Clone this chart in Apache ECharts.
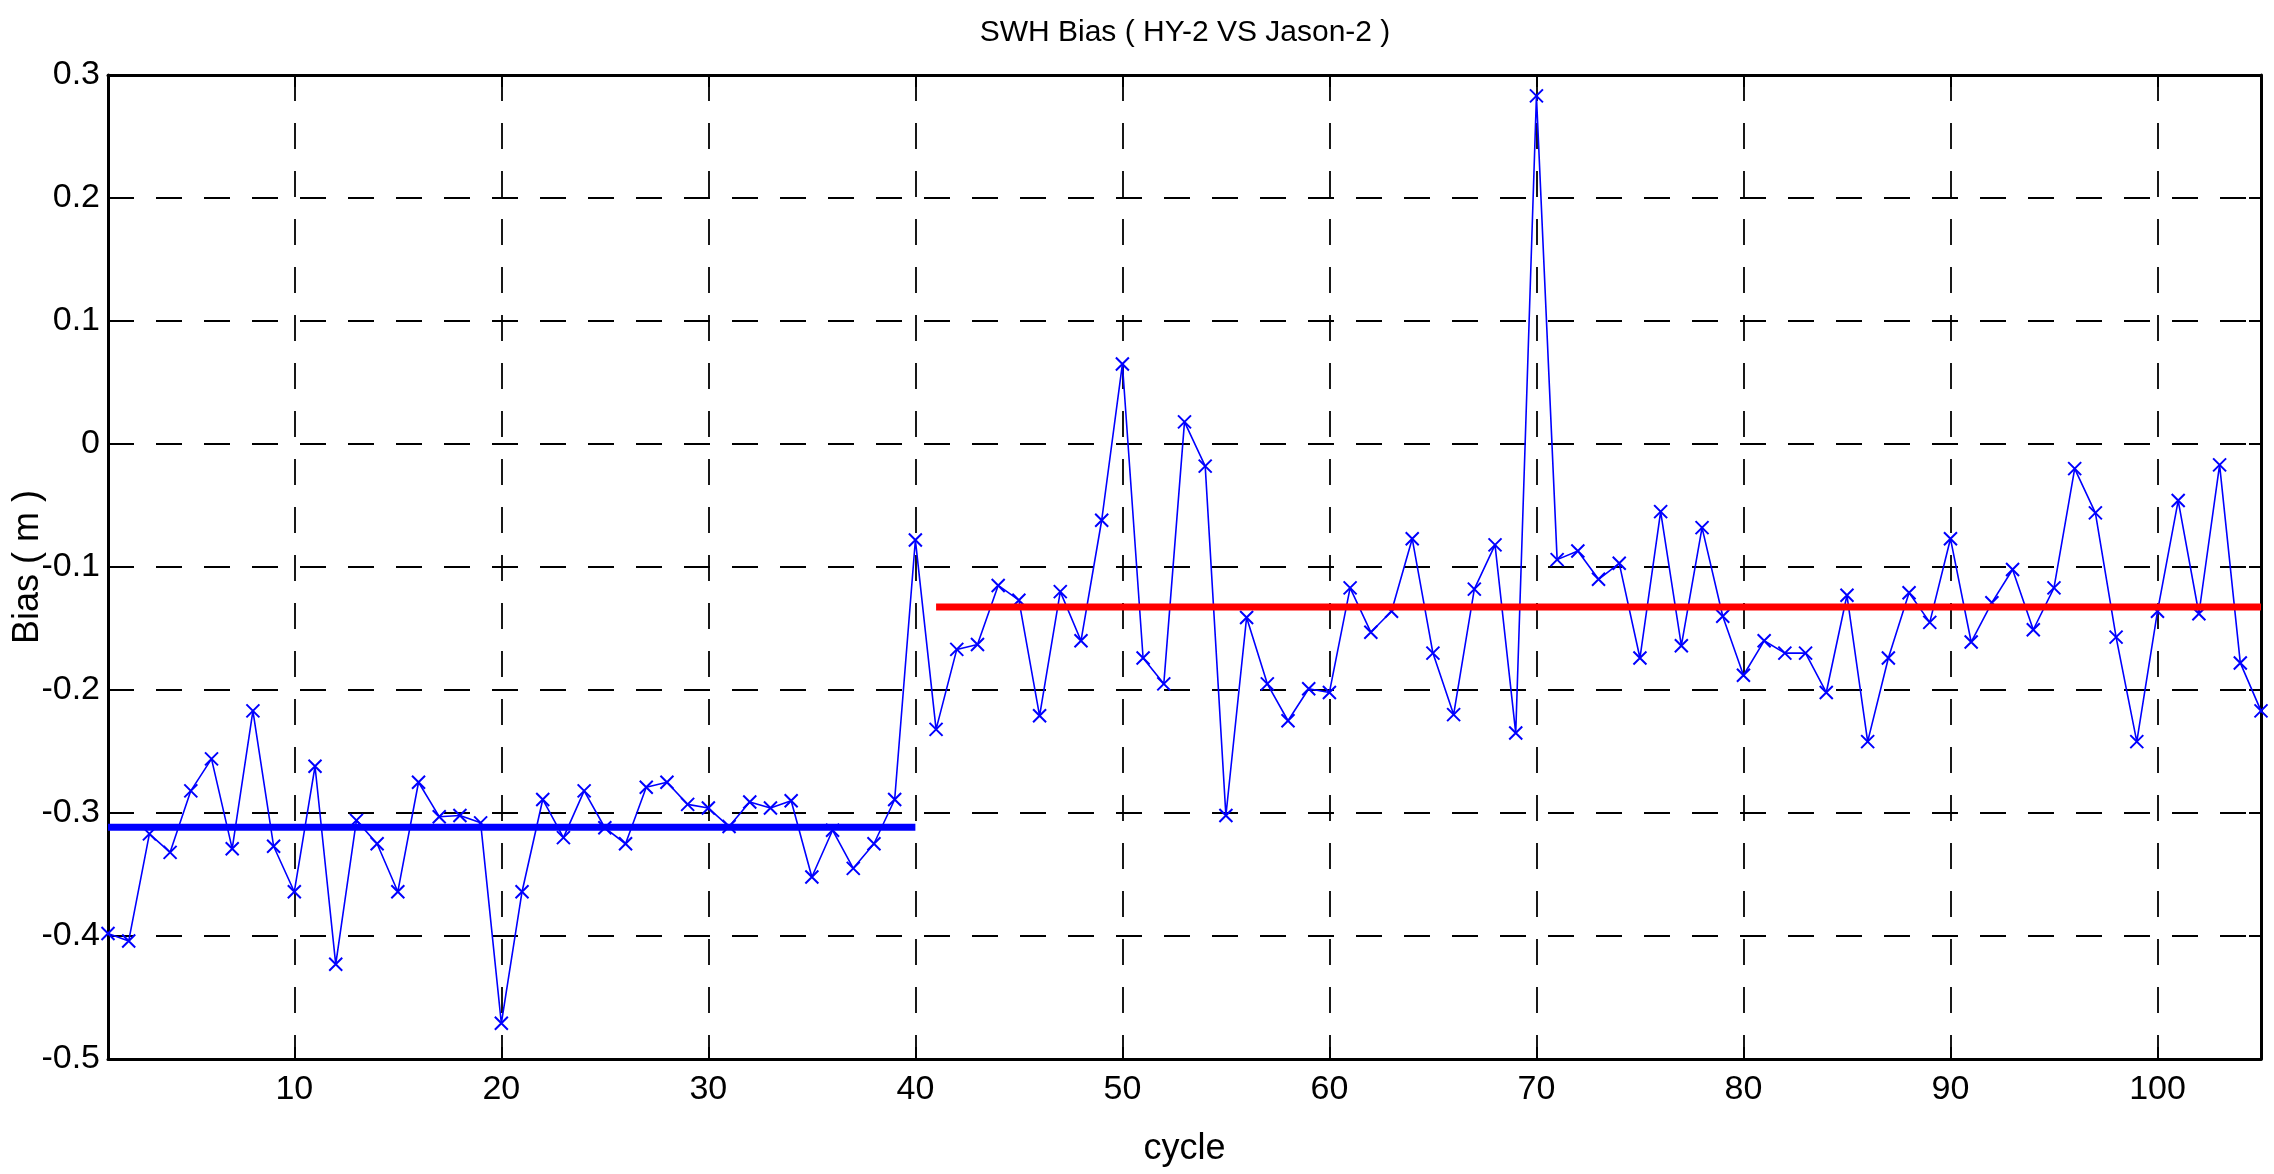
<!DOCTYPE html>
<html>
<head>
<meta charset="utf-8">
<title>SWH Bias</title>
<script src="https://cdn.jsdelivr.net/npm/echarts@6/dist/echarts.min.js"></script>
<style>
	html, body { margin: 0; padding: 0; background: #fff; }
	#main { width: 2274px; height: 1174px; }
</style>
</head>
<body>
<div id="main"></div>
<script>
	// 每个周期的偏差 (cycle 1 ~ 105)
	var bias = [
		-0.398, -0.404, -0.317, -0.332, -0.282, -0.256, -0.329, -0.217, -0.327, -0.364,
		-0.262, -0.423, -0.306, -0.325, -0.364, -0.275, -0.303, -0.302, -0.308, -0.471,
		-0.364, -0.289, -0.320, -0.282, -0.312, -0.325, -0.279, -0.275, -0.293, -0.296,
		-0.311, -0.291, -0.296, -0.290, -0.352, -0.314, -0.345, -0.325, -0.289, -0.078,
		-0.232, -0.167, -0.163, -0.115, -0.127, -0.221, -0.120, -0.160, -0.062, 0.065,
		-0.174, -0.195, 0.018, -0.018, -0.302, -0.141, -0.195, -0.225, -0.199, -0.202,
		-0.117, -0.153, -0.136, -0.077, -0.170, -0.220, -0.118, -0.082, -0.235, 0.283,
		-0.094, -0.087, -0.110, -0.097, -0.174, -0.055, -0.164, -0.068, -0.140, -0.188,
		-0.160, -0.170, -0.170, -0.202, -0.123, -0.242, -0.174, -0.121, -0.145, -0.077,
		-0.161, -0.129, -0.102, -0.151, -0.117, -0.020, -0.056, -0.157, -0.242, -0.136,
		-0.046, -0.138, -0.017, -0.178, -0.217
	];
	// 两段平均值 [起始cycle, 结束cycle, 值]
	var meanHY2a = [1, 40, -0.3115];
	var meanHY2b = [41, 105, -0.1325];
	var xTicks = [10, 20, 30, 40, 50, 60, 70, 80, 90, 100];
	var yTicks = [-0.5, -0.4, -0.3, -0.2, -0.1, 0, 0.1, 0.2, 0.3];

	var labelFont = '"Liberation Sans", Arial, sans-serif';

	var points = [];
	for (var i = 0; i < bias.length; i++) {
		points.push([i + 1, bias[i]]);
	}

	var myChart = echarts.init(document.getElementById('main'), null, { renderer: 'canvas' });

	var option = {
		animation: false,
		backgroundColor: '#fff',
		title: {
			text: 'SWH Bias ( HY-2 VS Jason-2 )',
			left: 1180,
			top: 13,
			textAlign: 'center',
			textStyle: { fontFamily: labelFont, fontSize: 30, fontWeight: 'normal', color: '#000' }
		},
		grid: {
			left: 108,
			right: 13,
			top: 75,
			bottom: 115,
			show: false,
			outerBoundsMode: 'none'
		},
		xAxis: [{
			type: 'value',
			min: 1,
			max: 105,
			name: 'cycle',
			nameLocation: 'middle',
			nameGap: 72,
			nameMoveOverlap: false,
			nameTextStyle: { fontFamily: labelFont, fontSize: 36, color: '#000' },
			axisLine: { onZero: false, lineStyle: { color: '#000', width: 3 } },
			axisTick: { inside: true, length: 12, customValues: xTicks, lineStyle: { color: '#000', width: 2 } },
			axisLabel: { customValues: xTicks, margin: 14, fontFamily: labelFont, fontSize: 34, color: '#000' },
			splitLine: { show: true, lineStyle: { color: '#000', width: 1.8, type: [26, 22] } }
		}, {
			type: 'value',
			position: 'top',
			min: 1,
			max: 105,
			axisLine: { onZero: false, lineStyle: { color: '#000', width: 3 } },
			axisTick: { inside: true, length: 12, customValues: xTicks, lineStyle: { color: '#000', width: 2 } },
			axisLabel: { show: false },
			splitLine: { show: false }
		}],
		yAxis: [{
			type: 'value',
			min: yTicks[0],
			max: yTicks[yTicks.length - 1],
			interval: 0.1,
			name: 'Bias ( m )',
			nameLocation: 'middle',
			nameGap: 62,
			nameMoveOverlap: false,
			nameTextStyle: { fontFamily: labelFont, fontSize: 36, color: '#000' },
			axisLine: { onZero: false, lineStyle: { color: '#000', width: 3 } },
			axisTick: { inside: true, length: 12, lineStyle: { color: '#000', width: 2 } },
			axisLabel: { margin: 8, fontFamily: labelFont, fontSize: 34, color: '#000' },
			splitLine: { show: true, lineStyle: { color: '#000', width: 1.8, type: [26, 22] } }
		}, {
			type: 'value',
			position: 'right',
			min: yTicks[0],
			max: yTicks[yTicks.length - 1],
			interval: 0.1,
			axisLine: { show: true, onZero: false, lineStyle: { color: '#000', width: 3 } },
			axisTick: { show: true, inside: true, length: 12, lineStyle: { color: '#000', width: 2 } },
			axisLabel: { show: false },
			splitLine: { show: false }
		}],
		series: [{
			name: 'bias',
			type: 'line',
			data: points,
			symbol: 'path://M0,0L10,10M10,0L0,10',
			symbolSize: 13,
			showAllSymbol: true,
			itemStyle: { color: 'none', borderColor: '#0000ff', borderWidth: 2 },
			lineStyle: { color: '#0000ff', width: 1.6 },
			emphasis: { disabled: true },
			z: 3
		}, {
			name: 'mean1',
			type: 'line',
			data: [[meanHY2a[0], meanHY2a[2]], [meanHY2a[1], meanHY2a[2]]],
			symbol: 'none',
			lineStyle: { color: '#0000ff', width: 7 },
			emphasis: { disabled: true },
			z: 4
		}, {
			name: 'mean2',
			type: 'line',
			data: [[meanHY2b[0], meanHY2b[2]], [meanHY2b[1], meanHY2b[2]]],
			symbol: 'none',
			lineStyle: { color: '#ff0000', width: 7 },
			emphasis: { disabled: true },
			z: 4
		}]
	};

	myChart.setOption(option);
	window.onresize = function () {
		myChart.resize();
	};
</script>
</body>
</html>
